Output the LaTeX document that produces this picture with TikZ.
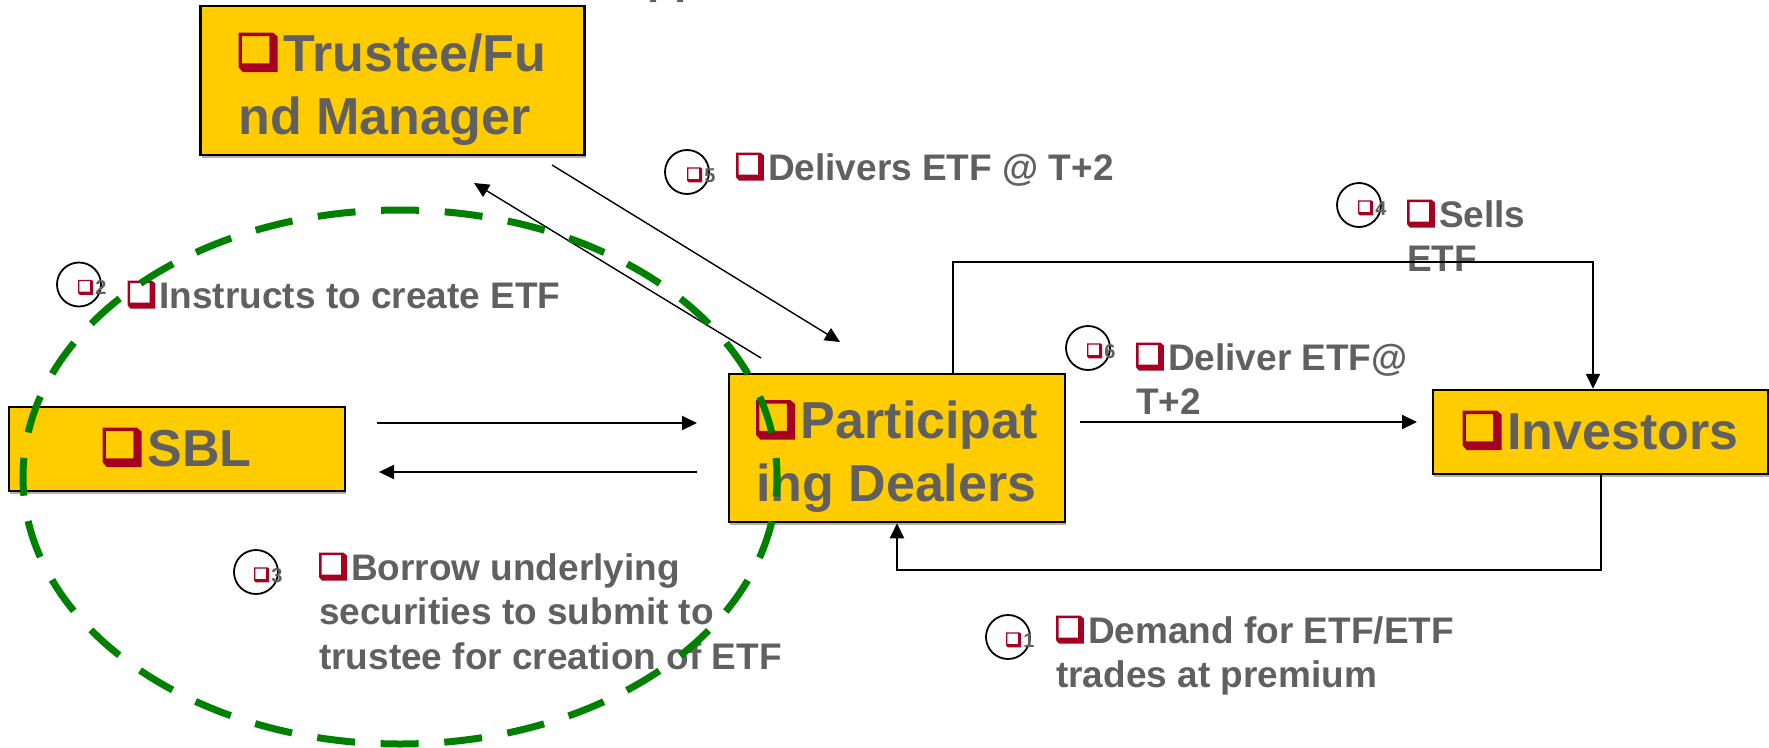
\documentclass[tikz,border=0pt]{standalone}
\usepackage{fontspec}
\setmainfont{Liberation Sans}
\usetikzlibrary{arrows.meta,shadows}

\definecolor{boxyellow}{HTML}{FFCC00}
\definecolor{txtgray}{HTML}{606060}
\definecolor{qred}{HTML}{A50021}
\definecolor{loopgreen}{HTML}{008000}

% shadowed square bullet, sized to the current font
\newcommand\qb{\tikz[baseline=0pt,x=1em,y=1em]{\fill[qred,even odd rule]
  (0,0.07) -- (0,0.737) -- (0.66,0.737) -- (0.75,0.66) -- (0.75,-0.02) -- (0.08,-0.02) -- cycle
  (0.064,0.147) rectangle (0.59,0.673);}\hspace{0.11em}}

\tikzset{
  panel/.style={draw=black, line width=2.5pt, fill=boxyellow, inner sep=0pt,
    text=txtgray, font=\fontsize{52}{63}\selectfont\bfseries, text height=38pt,
    drop shadow={shadow xshift=1pt, shadow yshift=-3pt, fill=black!30, opacity=1}},
  lbl/.style={anchor=base west, inner sep=0pt, text=txtgray,
    font=\fontsize{37}{44.5}\selectfont\bfseries},
  numcirc/.style={circle, draw=black, line width=1.8pt, minimum size=44pt, inner sep=0pt},
  numtxt/.style={anchor=base west, inner sep=0pt, text=txtgray,
    font=\fontsize{20}{24}\selectfont\bfseries},
  arr/.style={-{Triangle[length=15pt,width=14pt]}, line width=2pt, black},
  diag/.style={arr, line width=1.4pt},
  loop/.style={loopgreen, line width=7pt, dash pattern=on 38pt off 25.68pt, dash phase=19pt}
}

\begin{document}
\begin{tikzpicture}[x=1pt,y=-1pt]
\useasboundingbox (0,0) rectangle (1769,747);

% heading text running off the top edge
\node[anchor=base west, inner sep=0pt, text=txtgray, font=\fontsize{44}{52}\selectfont\bfseries] (topcut) at (647,-7) {pp};

% parties
\node[panel, minimum width=384pt, minimum height=149pt, text depth=57pt] (tru) at (392.5,80.5)
  {\begin{tabular}[t]{@{}l@{}}\qb Trustee/Fu\\nd Manager\end{tabular}};
\node[panel, minimum width=336pt, minimum height=84pt, text depth=4pt] (sbl) at (177,449) {\qb SBL};
\node[panel, minimum width=336pt, minimum height=148pt, text depth=57pt] (pd) at (897,448)
  {\begin{tabular}[t]{@{}l@{}}\qb Participat\\ing Dealers\end{tabular}};
\node[panel, minimum width=335pt, minimum height=84pt, text depth=4pt] (inv) at (1600.5,432) {\qb Investors};

% step labels
\node[lbl] (l2) at (127.5,308) {\qb Instructs to create ETF};
\node[lbl] (l5) at (736,180) {\qb Delivers ETF @ T+2};
\node[lbl] (l4) at (1407,227) {\begin{tabular}[t]{@{}l@{}}\qb Sells\\ETF\end{tabular}};
\node[lbl] (l6) at (1136,370) {\begin{tabular}[t]{@{}l@{}}\qb Deliver ETF@\\T+2\end{tabular}};
\node[lbl] (l3) at (319,580) {\begin{tabular}[t]{@{}l@{}}\qb Borrow underlying\\securities to submit to\\trustee for creation of ETF\end{tabular}};
\node[lbl] (l1) at (1056,643) {\begin{tabular}[t]{@{}l@{}}\qb Demand for ETF/ETF\\trades at premium\end{tabular}};

% step numbers
\node[numcirc] (m1) at (1008,637) {};
\node[numtxt] (n1) at (1006,647) {\qb 1};
\node[numcirc] (m2) at (79,284.5) {};
\node[numtxt] (n2) at (78,294.5) {\qb 2};
\node[numcirc] (m3) at (256,572) {};
\node[numtxt] (n3) at (254,582) {\qb 3};
\node[numcirc] (m4) at (1359,205) {};
\node[numtxt] (n4) at (1358,215) {\qb 4};
\node[numcirc] (m5) at (687,172) {};
\node[numtxt] (n5) at (687,182) {\qb 5};
\node[numcirc] (m6) at (1088,348) {};
\node[numtxt] (n6) at (1087,358) {\qb 6};

% connector end points
\coordinate (sa) at (377,423);  \coordinate (sb) at (697,423);
\coordinate (sc) at (697,472);  \coordinate (sd) at (379,472);
\coordinate (ta) at (761,358);  \coordinate (tb) at (474,183);
\coordinate (tc) at (552,165);  \coordinate (td) at (840,342);
\coordinate (ia) at (1080,422); \coordinate (ib) at (1417,422);
\coordinate (ua) at (953,262);  \coordinate (ub) at (1593,262);
\coordinate (da) at (1600.5,570); \coordinate (db) at (897,570);

% flows
\draw[arr] (sa) -- (sb);
\draw[arr] (sc) -- (sd);
\draw[diag] (ta) -- (tb);
\draw[diag] (tc) -- (td);
\draw[arr] (ia) -- (ib);
\draw[arr] (pd.north -| ua) -- (ua) -- (ub) -- (inv.north -| ub);
\draw[arr] (inv.south) -- (da) -- (db) -- (pd.south);

% creation loop
\draw[loop] (400,477) ellipse [x radius=377pt, y radius=267pt];
\end{tikzpicture}
\end{document}
